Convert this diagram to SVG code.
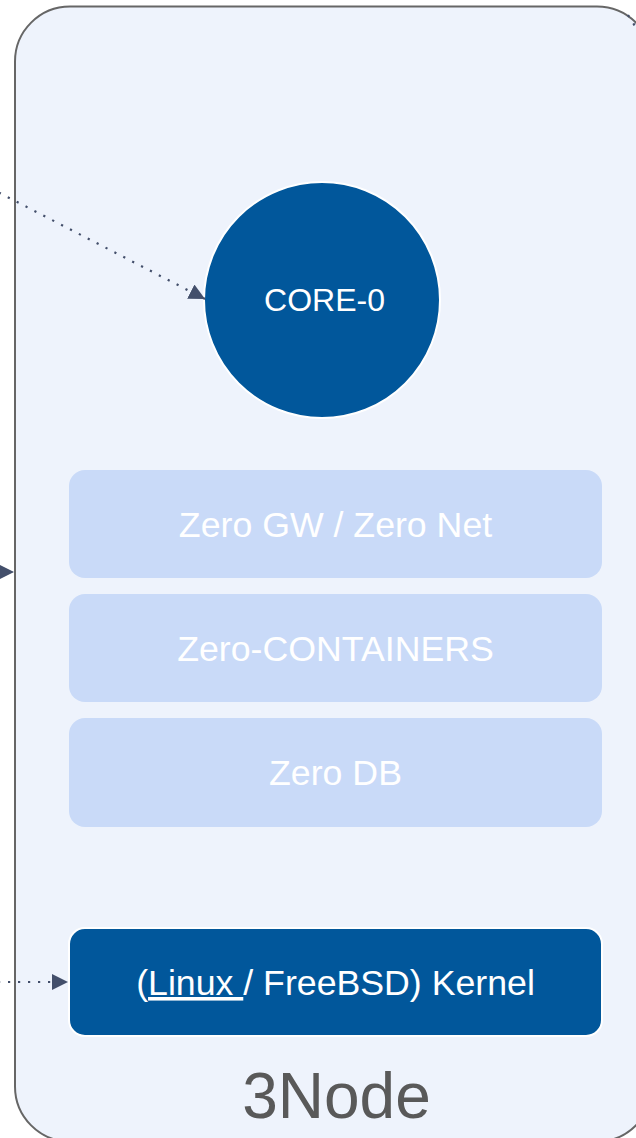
<svg xmlns="http://www.w3.org/2000/svg" width="636" height="1138" viewBox="0 0 636 1138">
  <defs>
    <marker id="arrow" markerUnits="userSpaceOnUse" markerWidth="18" markerHeight="16" viewBox="0 0 18 16" refX="16" refY="8" orient="auto">
      <path d="M0,0 L16,8 L0,16 Z" fill="#434f6b"/>
    </marker>
    <style>
      .label { font-family: "Liberation Sans", Arial, sans-serif; fill: #ffffff; text-anchor: middle; }
      .layer { fill: #c9daf8; }
      .dark { fill: #01579b; stroke: #ffffff; stroke-width: 2; }
      .conn { fill: none; stroke: #434f6b; stroke-width: 2.2; stroke-dasharray: 2.2 7.8; }
    </style>
  </defs>

  <g id="node-3node">
    <rect x="15" y="6.5" width="637" height="1135" rx="55" ry="55" fill="#eef3fc" stroke="#666666" stroke-width="2"/>
    <text x="336.5" y="1118" font-family="Liberation Sans, Arial, sans-serif" font-size="64" fill="#595959" text-anchor="middle">3Node</text>
  </g>

  <g id="node-core0">
    <circle cx="322" cy="300" r="118" class="dark"/>
    <text x="324.5" y="311" class="label" font-size="32">CORE-0</text>
  </g>

  <g id="node-zerogw">
    <rect x="69" y="470" width="533" height="108" rx="16" class="layer"/>
    <text x="335.5" y="537" class="label" font-size="35.7">Zero GW / Zero Net</text>
  </g>

  <g id="node-zerocontainers">
    <rect x="69" y="594" width="533" height="108" rx="16" class="layer"/>
    <text x="335.5" y="661" class="label" font-size="35.7">Zero-CONTAINERS</text>
  </g>

  <g id="node-zerodb">
    <rect x="69" y="718" width="533" height="109" rx="16" class="layer"/>
    <text x="335.5" y="785" class="label" font-size="35.7">Zero DB</text>
  </g>

  <g id="node-kernel">
    <rect x="69" y="928" width="533" height="108" rx="16" class="dark"/>
    <text x="335.5" y="995" class="label" font-size="35.7">(<tspan text-decoration="underline">Linux </tspan>/ FreeBSD) Kernel</text>
  </g>

  <g id="connectors">
    <line x1="-10" y1="188" x2="205" y2="299" class="conn" marker-end="url(#arrow)"/>
    <line x1="-30" y1="572" x2="14" y2="572" class="conn" stroke-dasharray="none" marker-end="url(#arrow)"/>
    <line x1="-2" y1="982" x2="68" y2="982" class="conn" marker-end="url(#arrow)"/>
    <line x1="628" y1="15" x2="640" y2="34" class="conn" stroke-dasharray="none"/>
  </g>
</svg>
